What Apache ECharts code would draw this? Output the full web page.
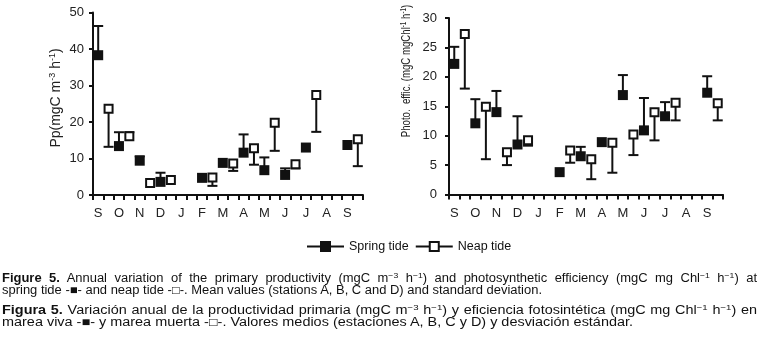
<!DOCTYPE html>
<html><head><meta charset="utf-8">
<script src="https://cdn.jsdelivr.net/npm/echarts@6/dist/echarts.min.js"></script>
<style>
html,body{margin:0;padding:0;background:#fff;}
#chart{position:absolute;left:0;top:0;width:759px;height:353px;}
#cap{position:absolute;left:2px;top:272px;width:755px;font-family:'Liberation Sans',Arial,sans-serif;font-size:12px;color:#111;line-height:12.4px;}
.ln{white-space:nowrap;height:12.4px;}
.ln span{display:inline-block;transform-origin:0 50%;}
.gap{margin-top:7px;}
sup{font-size:8px;line-height:0;vertical-align:4px;}
</style></head>
<body>
<div id="chart"></div>
<div id="cap">
<div class="ln"><span><b>Figure 5.</b> Annual variation of the primary productivity (mgC m<sup>−3</sup> h<sup>−1</sup>) and photosynthetic efficiency (mgC mg Chl<sup>−1</sup> h<sup>−1</sup>) at</span></div>
<div class="ln" data-w="540"><span>spring tide -■- and neap tide -□-. Mean values (stations A, B, C and D) and standard deviation.</span></div>
<div class="ln gap"><span><b>Figura 5.</b> Variación anual de la productividad primaria (mgC m<sup>−3</sup> h<sup>−1</sup>) y eficiencia fotosintética (mgC mg Chl<sup>−1</sup> h<sup>−1</sup>) en</span></div>
<div class="ln" data-w="631"><span>marea viva -■- y marea muerta -□-. Valores medios (estaciones A, B, C y D) y desviación estándar.</span></div>
</div>
<script>
// ---- data ----
const halfMonths = ['Sep1','Sep2','Oct1','Oct2','Nov1','Nov2','Dec1','Dec2','Jan1','Jan2','Feb1','Feb2','Mar1','Mar2',
                    'Apr1','Apr2','May1','May2','Jun1','Jun2','Jul1','Jul2','Aug1','Aug2','Sep1b','Sep2b'];
const monthLabels = ['S','O','N','D','J','F','M','A','M','J','J','A','S'];

// Primary productivity Pp (mgC m-3 h-1)
const ppSpring    = [38.3,null,13.4,null,9.4,null,3.6,null,null,null,4.7,null,8.8,null,11.6,null,6.8,null,5.5,null,13.0,null,null,null,13.7,null];
const ppSpringErr = [46.3,null,17.2,null,10.6,null,6.1,null,null,null,null,null,null,null,16.6,null,10.3,null,7.3,null,null,null,null,null,null,null];
const ppNeap      = [null,23.6,null,16.1,null,3.3,null,4.1,null,null,null,4.8,null,8.6,null,12.8,null,19.8,null,8.4,null,27.4,null,null,null,15.3];
const ppNeapErr   = [null,13.2,null,17.2,null,null,null,null,null,null,null,2.5,null,6.6,null,8.3,null,12.1,null,7.3,null,17.3,null,null,null,7.9];

// Photosynthetic efficiency (mgC mgChl-1 h-1)
const peSpring    = [22.2,null,12.1,null,14.0,null,8.5,null,null,null,3.8,null,6.5,null,8.9,null,16.9,null,10.9,null,13.3,null,null,null,17.3,null];
const peSpringErr = [25.1,null,16.2,null,17.6,null,13.3,null,null,null,null,null,8.1,null,null,null,20.3,null,16.4,null,15.7,null,null,null,20.1,null];
const peNeap      = [null,27.3,null,14.9,null,7.2,null,9.2,null,null,null,7.5,null,6.0,null,8.8,null,10.2,null,14.0,null,15.6,null,null,null,15.5];
const peNeapErr   = [null,18.0,null,6.0,null,5.0,null,8.3,null,null,null,5.4,null,2.6,null,3.7,null,6.7,null,9.2,null,12.6,null,null,null,12.6];

const ppTicks = {min:0, max:50, interval:10};
const peTicks = {min:0, max:30, interval:5};

// ---- caption: condensed glyphs (scale from paragraph's last line), first line justified by word spacing ----
const lines = Array.from(document.querySelectorAll('#cap .ln'));
for (let k = 0; k < lines.length; k += 2) {
  const first = lines[k].firstElementChild, last = lines[k+1].firstElementChild;
  const s = (+lines[k+1].dataset.w) / last.getBoundingClientRect().width;
  last.style.transform = 'scaleX(' + s + ')';
  const w1 = first.getBoundingClientRect().width;
  const nSp = first.textContent.split(' ').length - 1;
  const extra = (755 / s - w1) / nSp;
  first.style.wordSpacing = extra + 'px';
  first.style.transform = 'scaleX(' + s + ')';
}

// ---- chart ----
const FONT = "'Liberation Sans', Arial, sans-serif";
const INK = '#111';
const chart = echarts.init(document.getElementById('chart'));

function toData(arr){ return arr.map(v => v == null ? '-' : v); }
function errSeries(vals, errs, gi){
  const data = [];
  vals.forEach((v,i)=>{ if (v != null && errs[i] != null) data.push([i, v, errs[i]]); });
  return {
    type:'custom', xAxisIndex:gi, yAxisIndex:gi, z:1, silent:true, data,
    encode:{x:0, y:[1,2]},
    renderItem(params, api){
      const x = api.value(0);
      const p1 = api.coord([x, api.value(1)]);
      const p2 = api.coord([x, api.value(2)]);
      return {type:'group', children:[
        {type:'line', shape:{x1:p1[0], y1:p1[1], x2:p2[0], y2:p2[1]}, style:{stroke:INK, lineWidth:2}},
        {type:'line', shape:{x1:p2[0]-5, y1:p2[1], x2:p2[0]+5, y2:p2[1]}, style:{stroke:INK, lineWidth:2}}
      ]};
    }
  };
}
function xAxis(gi){
  return {gridIndex:gi, type:'category', data:halfMonths, boundaryGap:true,
    axisLine:{lineStyle:{color:INK, width:2}},
    axisTick:{show:true, interval:0, length:5, lineStyle:{color:INK, width:2}},
    axisLabel:{interval:0, margin:12, fontSize:13, color:'#222', fontFamily:FONT,
      formatter:(v,i)=> i%2===0 ? monthLabels[i/2] : ''},
    splitLine:{show:false}};
}
function yAxis(gi, t, margin){
  return {gridIndex:gi, type:'value', min:t.min, max:t.max, interval:t.interval,
    axisLine:{show:true, lineStyle:{color:INK, width:2}},
    axisTick:{show:true, length:4, lineStyle:{color:INK, width:2}},
    axisLabel:{fontSize:13, color:'#222', margin:margin, fontFamily:FONT},
    splitLine:{show:false}};
}
function springSeries(vals, gi){
  return {name:'Spring tide', type:'scatter', xAxisIndex:gi, yAxisIndex:gi, z:3,
    symbol:'rect', symbolSize:10, itemStyle:{color:INK, opacity:1}, data:toData(vals)};
}
function neapSeries(vals, gi){
  return {name:'Neap tide', type:'scatter', xAxisIndex:gi, yAxisIndex:gi, z:3,
    symbol:'rect', symbolSize:8, itemStyle:{color:'#fff', borderColor:INK, borderWidth:2, opacity:1}, data:toData(vals)};
}
const legIcon = 'path://M0,5H14M14,0.5H23V9.5H14ZM23,5H37';

chart.setOption({
  animation:false,
  backgroundColor:'#fff',
  textStyle:{fontFamily:FONT},
  grid:[
    {left:93, top:12.5, width:270, height:182.5},
    {left:449, top:18, width:274, height:176.5}
  ],
  xAxis:[xAxis(0), xAxis(1)],
  yAxis:[yAxis(0, ppTicks, 9), yAxis(1, peTicks, 12)],
  legend:{left:306, top:240, padding:0, itemWidth:37, itemHeight:10, itemGap:6, selectedMode:false,
    textStyle:{fontSize:12.5, color:'#111', fontFamily:FONT},
    data:[
      {name:'Spring tide', icon:legIcon, itemStyle:{color:INK, borderColor:INK, borderWidth:2}},
      {name:'Neap tide', icon:legIcon, itemStyle:{color:'#fff', borderColor:INK, borderWidth:2}}
    ]},
  graphic:[
    {type:'text', x:56, y:98, rotation:Math.PI/2, silent:true,
      style:{text:'Pp(mgC m{s|-3} h{s|-1})', font:'14px '+FONT, fill:'#222', align:'center', verticalAlign:'middle',
        rich:{s:{fontSize:9, fontFamily:FONT, fill:'#222', verticalAlign:'top', lineHeight:15}}}},
    {type:'text', x:406, y:71, rotation:Math.PI/2, scaleX:0.74, silent:true,
      style:{text:'Photo.  effic. (mgC mgChl{s|-1} h{s|-1})', font:'13px '+FONT, fill:'#222', align:'center', verticalAlign:'middle',
        rich:{s:{fontSize:8.5, fontFamily:FONT, fill:'#222', verticalAlign:'top', lineHeight:14}}}}
  ],
  series:[
    errSeries(ppSpring, ppSpringErr, 0), errSeries(ppNeap, ppNeapErr, 0),
    springSeries(ppSpring, 0), neapSeries(ppNeap, 0),
    errSeries(peSpring, peSpringErr, 1), errSeries(peNeap, peNeapErr, 1),
    springSeries(peSpring, 1), neapSeries(peNeap, 1)
  ]
});
</script>
</body></html>
